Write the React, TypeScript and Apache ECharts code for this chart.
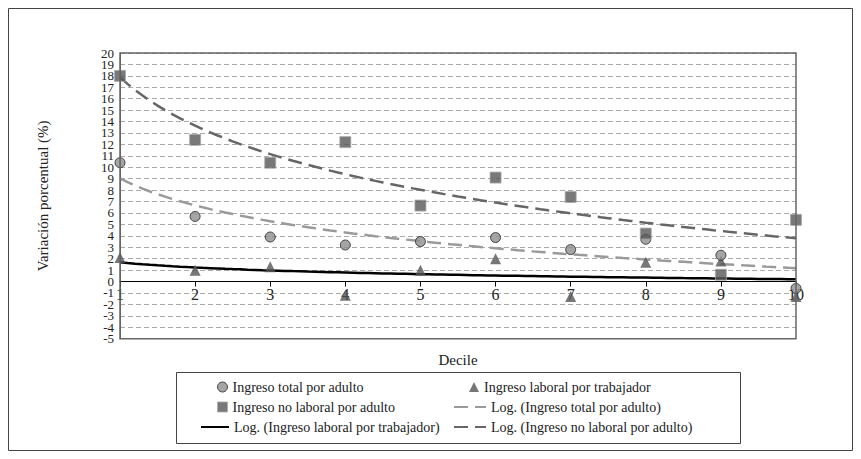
import * as echarts from "echarts";
import { useEffect, useRef } from "react";

const deciles = [1, 2, 3, 4, 5, 6, 7, 8, 9, 10];
const totalAdulto = [10.4, 5.7, 3.9, 3.2, 3.5, 3.85, 2.8, 3.7, 2.3, -0.6];
const laboralTrabajador = [2.1, 1.0, 1.3, -1.2, 1.0, 2.0, -1.3, 1.7, 1.8, -1.3];
const noLaboralAdulto = [18.0, 12.4, 10.4, 12.2, 6.65, 9.1, 7.4, 4.2, 0.6, 5.4];
const yTickLabels = [
  "-5", "-4", "-3", "-2", "-1", "0", "1", "2", "3", "4", "5", "6", "7",
  "8", "9", "10", "11", "12", "13", "14", "15", "16", "17", "18", "19", "20",
];

const FONT = "serif";

// least-squares fit y = a + b ln(x), as the spreadsheet trendline does
function logTrend(ys: number[]): number[][] {
  const lx = deciles.map((x) => Math.log(x));
  const n = lx.length;
  const mx = lx.reduce((s, v) => s + v, 0) / n;
  const my = ys.reduce((s, v) => s + v, 0) / n;
  let sxy = 0;
  let sxx = 0;
  lx.forEach((v, i) => {
    sxy += (v - mx) * (ys[i] - my);
    sxx += (v - mx) * (v - mx);
  });
  const b = sxy / sxx;
  const a = my - b * mx;
  const pts: number[][] = [];
  for (let x = 1; x <= 10.001; x += 0.1) pts.push([x, a + b * Math.log(x)]);
  return pts;
}

const names = [
  "Ingreso total por adulto",
  "Ingreso laboral por trabajador",
  "Ingreso no laboral por adulto",
  "Log. (Ingreso total por adulto)",
  "Log. (Ingreso laboral por trabajador)",
  "Log. (Ingreso no laboral por adulto)",
];

const circleStyle = { color: "#8e8e8e", borderColor: "#222", borderWidth: 1 };
const triStyle = { color: "#555" };
const squareStyle = { color: "#575757", borderColor: "#aaa", borderWidth: 1 };

export default function App() {
  const ref = useRef<HTMLDivElement>(null);

  useEffect(() => {
    if (!ref.current) return;
    const chart = echarts.init(ref.current, null, { renderer: "svg" });
    const pairs = (ys: number[]) => deciles.map((x, i) => [x, ys[i]]);
    // [left, centre y, icon width]
    const legendPos = [
      [212, 383, 10],
      [464, 383, 10],
      [212, 403, 10],
      [448, 403, 32],
      [195, 423, 28],
      [448, 423, 32],
    ];
    const legendItem = [circleStyle, triStyle, squareStyle, { opacity: 0 }, { opacity: 0 }, { opacity: 0 }];
    chart.setOption({
      animation: false,
      textStyle: { fontFamily: FONT, color: "#222" },
      grid: { left: 120, right: 65, top: 53, bottom: 120.3 },
      legend: legendPos.map(([x, y, w], i) => ({
        data: [names[i]],
        left: x,
        top: y - 8,
        itemWidth: w,
        itemHeight: 10,
        itemGap: 6,
        itemStyle: legendItem[i],
        textStyle: { fontFamily: FONT, fontSize: 14, color: "#222" },
      })),
      xAxis: {
        type: "value",
        min: 1,
        max: 10,
        interval: 1,
        name: "Decile",
        nameLocation: "middle",
        nameGap: 14,
        nameTextStyle: { fontSize: 15, fontFamily: FONT, color: "#222" },
        axisLine: { onZero: true, onZeroAxisIndex: 0, lineStyle: { color: "#000", width: 1.2 } },
        axisTick: { show: true, length: 5, lineStyle: { color: "#000" } },
        axisLabel: { fontSize: 16, color: "#222", margin: -52, fontFamily: FONT },
        splitLine: { show: false },
      },
      yAxis: [
        {
          type: "value",
          min: -5,
          max: 20,
          interval: 1,
          name: "Variación porcentual (%)",
          nameLocation: "middle",
          nameGap: 70,
          nameTextStyle: { fontSize: 15, fontFamily: FONT, color: "#222" },
          axisLine: { show: true, lineStyle: { color: "#666" } },
          axisTick: { show: false },
          axisLabel: { show: false },
          splitLine: { lineStyle: { color: "#aaa", type: [5, 3], width: 1 } },
        },
        {
          type: "category",
          position: "left",
          data: yTickLabels,
          boundaryGap: false,
          axisLine: { show: false },
          axisTick: { show: false },
          splitLine: { show: false },
          axisLabel: { interval: 0, fontSize: 13, lineHeight: 10, color: "#222", margin: 6, fontFamily: FONT },
        },
      ],
      graphic: [
        { type: "rect", shape: { x: 8.5, y: 8.5, width: 844, height: 442 }, style: { fill: "none", stroke: "#444", lineWidth: 1 } },
        { type: "rect", shape: { x: 120, y: 53, width: 676, height: 285.7 }, style: { fill: "none", stroke: "#666", lineWidth: 1.5 }, z: 10 },
        { type: "rect", shape: { x: 176.5, y: 372.5, width: 564, height: 71 }, style: { fill: "none", stroke: "#444", lineWidth: 1 } },
      ],
      series: [
        { name: names[0], type: "scatter", data: pairs(totalAdulto), symbol: "circle", symbolSize: 10, itemStyle: circleStyle, z: 5 },
        { name: names[1], type: "scatter", data: pairs(laboralTrabajador), symbol: "triangle", symbolSize: 11, itemStyle: triStyle, z: 4 },
        { name: names[2], type: "scatter", data: pairs(noLaboralAdulto), symbol: "rect", symbolSize: 11, itemStyle: squareStyle, z: 6 },
        {
          name: names[3],
          type: "line",
          data: logTrend(totalAdulto),
          showSymbol: false,
          lineStyle: { color: "#9a9a9a", width: 2.5, type: [14, 7] },
          itemStyle: { color: "#9a9a9a" },
          z: 3,
        },
        {
          name: names[4],
          type: "line",
          data: logTrend(laboralTrabajador),
          showSymbol: false,
          lineStyle: { color: "#000", width: 2.5 },
          itemStyle: { color: "#000" },
          z: 3,
        },
        {
          name: names[5],
          type: "line",
          data: logTrend(noLaboralAdulto),
          showSymbol: false,
          lineStyle: { color: "#666", width: 2.5, type: [14, 7] },
          itemStyle: { color: "#666" },
          z: 3,
        },
      ],
    });
    return () => chart.dispose();
  }, []);

  return (
    <div
      ref={ref}
      style={{ position: "absolute", left: 0, top: 0, width: 861, height: 459, background: "#fff" }}
    />
  );
}
